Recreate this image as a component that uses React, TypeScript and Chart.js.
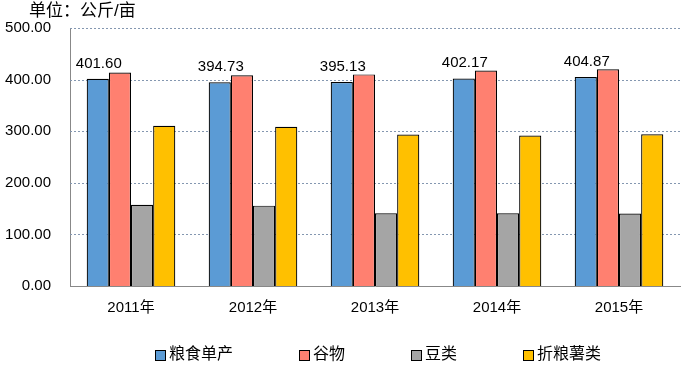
import React, { useEffect, useRef } from "react";
import { Chart, registerables } from "chart.js";

Chart.register(...registerables);

const categories = ["2011年", "2012年", "2013年", "2014年", "2015年"];
const seriesNames = ["粮食单产", "谷物", "豆类", "折粮薯类"];
const grainYield = [401.6, 394.73, 395.13, 402.17, 404.87];
const cerealYield = [413.9, 408.2, 410.1, 417.7, 420.2];
const beanYield = [157.6, 155.7, 141.0, 141.0, 140.4];
const tuberYield = [310.6, 308.7, 293.4, 291.5, 294.0];
const yTicks = [0, 100, 200, 300, 400, 500];
const unitLabel = "单位：公斤/亩";

const colors = ["#5B9BD5", "#FF8070", "#A5A5A5", "#FFC000"];
const FONT = "'Liberation Sans', 'Noto Sans CJK SC', sans-serif";

const overlayPlugin = {
  id: "overlay",
  beforeDatasetsDraw(chart: any) {
    const ctx = chart.ctx;
    const ys = chart.scales.y;
    const area = chart.chartArea;
    ctx.save();
    ctx.strokeStyle = "#8497B0";
    ctx.lineWidth = 1;
    ctx.setLineDash([2, 2]);
    yTicks.forEach((v) => {
      if (v === 0) return;
      const y = Math.round(ys.getPixelForValue(v)) + 0.5;
      ctx.beginPath();
      ctx.moveTo(area.left, y);
      ctx.lineTo(area.right, y);
      ctx.stroke();
    });
    ctx.restore();
  },
  afterDatasetsDraw(chart: any) {
    const ctx = chart.ctx;
    ctx.save();
    const meta = chart.getDatasetMeta(0);
    ctx.font = `15px ${FONT}`;
    ctx.fillStyle = "#000";
    ctx.textAlign = "center";
    ctx.textBaseline = "alphabetic";
    meta.data.forEach((bar: any, i: number) => {
      const v = chart.data.datasets[0].data[i] as number;
      ctx.fillText(v.toFixed(2), bar.x + 1, bar.y - 11);
    });
    ctx.restore();
  },
  afterDraw(chart: any) {
    const ctx = chart.ctx;
    ctx.save();
    ctx.font = `17px ${FONT}`;
    ctx.fillStyle = "#000";
    ctx.textAlign = "left";
    ctx.textBaseline = "middle";
    ctx.fillText(unitLabel, 29, 11);
    ctx.font = `16px ${FONT}`;
    let x = 155;
    const yc = 355;
    chart.data.datasets.forEach((ds: any) => {
      ctx.fillStyle = ds.backgroundColor;
      ctx.fillRect(x, yc - 5, 10, 10);
      ctx.strokeStyle = "#000";
      ctx.lineWidth = 1;
      ctx.strokeRect(x + 0.5, yc - 4.5, 10, 10);
      ctx.fillStyle = "#000";
      ctx.textBaseline = "middle";
      ctx.fillText(ds.label, x + 14, yc);
      x += 14 + ctx.measureText(ds.label).width + 66;
    });
    ctx.restore();
  },
};

export default function App() {
  const ref = useRef<HTMLCanvasElement | null>(null);
  useEffect(() => {
    if (!ref.current) return;
    const values = [grainYield, cerealYield, beanYield, tuberYield];
    const chart = new Chart(ref.current, {
      type: "bar",
      data: {
        labels: categories,
        datasets: seriesNames.map((name, i) => ({
          label: name,
          data: values[i],
          backgroundColor: colors[i],
          borderColor: "#000",
          borderWidth: 1.2,
          borderSkipped: "bottom",
          categoryPercentage: 0.726,
          barPercentage: 1,
        })),
      },
      options: {
        animation: false,
        responsive: false,
        maintainAspectRatio: false,
        layout: { padding: { top: 24, right: 1, left: 0, bottom: 0 } },
        plugins: {
          legend: { display: false },
          tooltip: { enabled: false },
          title: { display: false },
        },
        scales: {
          x: {
            grid: { display: false, drawTicks: false },
            border: { display: true, color: "#888888", width: 1 },
            ticks: {
              font: { size: 15, family: FONT },
              color: "#000",
              padding: 13,
            },
            afterFit(scale: any) {
              scale.height = 79;
            },
          },
          y: {
            min: 0,
            max: 500,
            afterBuildTicks(scale: any) {
              scale.ticks = yTicks.map((v) => ({ value: v }));
            },
            grid: { display: false, drawTicks: false },
            border: { display: true, color: "#888888", width: 1 },
            ticks: {
              font: { size: 15, family: FONT },
              color: "#000",
              padding: 19,
              callback: (v: any) => Number(v).toFixed(2),
            },
            afterFit(scale: any) {
              scale.width = 70;
            },
          },
        },
      },
      plugins: [overlayPlugin],
    });
    return () => chart.destroy();
  }, []);
  return (
    <div style={{ position: "fixed", left: 0, top: 0, width: 681, height: 365, background: "#fff" }}>
      <canvas ref={ref} width={681} height={365} style={{ width: 681, height: 365 }} />
    </div>
  );
}
